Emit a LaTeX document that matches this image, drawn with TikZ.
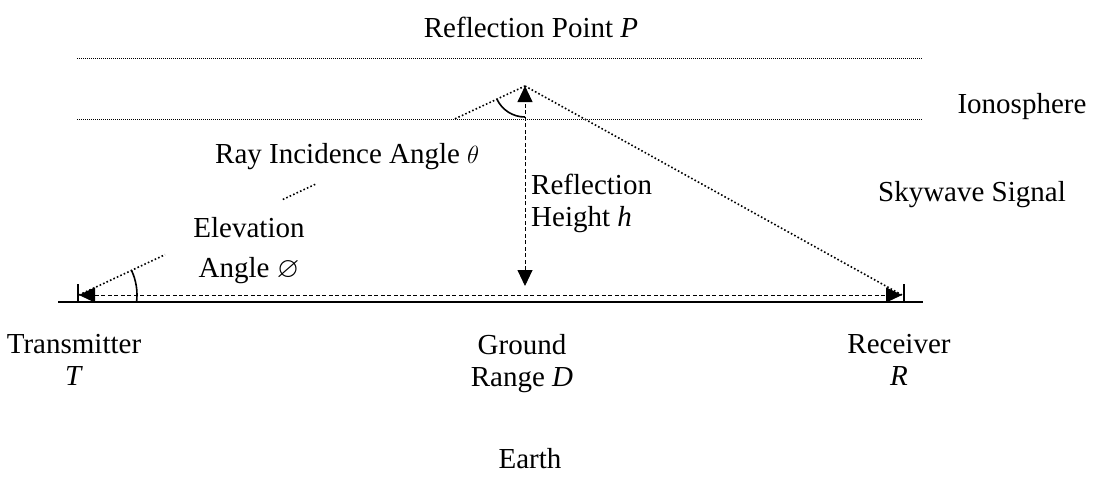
\documentclass[tikz,border=0pt]{standalone}
\usepackage{fontspec}
\usepackage{amssymb}
\setmainfont{Liberation Serif}
\usetikzlibrary{arrows.meta,calc}
\begin{document}
\begin{tikzpicture}[x=1pt,y=-1pt,
  lbl/.style={align=center,font=\fontsize{29}{32}\selectfont,inner sep=0pt,anchor=base},
  iono/.style={line width=1pt,dash pattern=on 1pt off 1pt},
  ray/.style={line width=1.6pt,dash pattern=on 1.6pt off 2.2pt},
  thin dash/.style={line width=0.9pt,dash pattern=on 4pt off 2.5pt},
  dtip/.style={{Triangle[length=16pt,width=15pt]}-{Triangle[length=16pt,width=15pt]}}]
\useasboundingbox (0,0) rectangle (1093,483);
% key points
\coordinate (T) at (79,295);
\coordinate (R) at (902,295);
\coordinate (P) at (525,86);
\coordinate (H) at (525,286);
\coordinate (GL) at (58,302);
\coordinate (GR) at (923,302);
\coordinate (I1a) at (77,58);  \coordinate (I1b) at (922,58);
\coordinate (I2a) at (77,119); \coordinate (I2b) at (922,119);
\coordinate (BTa) at (78,284); \coordinate (BTb) at (78,303);
\coordinate (BRa) at (904,284); \coordinate (BRb) at (904,303);
% ionosphere layers
\draw[iono] (I1a) -- (I1b);
\draw[iono] (I2a) -- (I2b);
% ground
\draw[line width=1.6pt] (GL) -- (GR);
\draw[line width=1.6pt] (BTa) -- (BTb);
\draw[line width=1.6pt] (BRa) -- (BRb);
% ground range
\draw[thin dash,dtip] (T) -- (R);
% reflection height
\draw[thin dash,dtip] (H) -- (P);
% rays
\draw[ray] (T) -- ($(T)!0.193!(P)$);
\draw[ray] ($(T)!0.457!(P)$) -- ($(T)!0.534!(P)$);
\draw[ray] ($(T)!0.843!(P)$) -- (P);
\draw[ray] (P) -- (R);
% angles
\draw[line width=1.6pt] ($(T)+(7:58)$) arc[start angle=7,end angle=-25.1,radius=58];
\draw[line width=1.6pt] ($(P)+(0,31)$) arc[start angle=90,end angle=154.9,radius=31];
% labels (base anchor = baseline of last line)
\node[lbl] (lp) at (531,37) {Reflection Point \textit{P}};
\node[lbl] (li) at (1022,113) {Ionosphere};
\node[lbl,anchor=base west] (lr) at (215,163) {Ray Incidence Angle $\theta$};
\node[lbl] (ls) at (972,201) {Skywave Signal};
\node[lbl] (le) at (249,277) {Elevation\\[8pt]Angle $\varnothing$};
\node[lbl,align=left,anchor=base west] (lh) at (531,226) {Reflection\\Height \textit{h}};
\node[lbl] (lt) at (74,385) {Transmitter\\\textit{T}};
\node[lbl] (lg) at (522,386) {Ground\\Range \textit{D}};
\node[lbl] (lrv) at (899,385) {Receiver\\\textit{R}};
\node[lbl] (lea) at (530,468) {Earth};
\end{tikzpicture}
\end{document}
